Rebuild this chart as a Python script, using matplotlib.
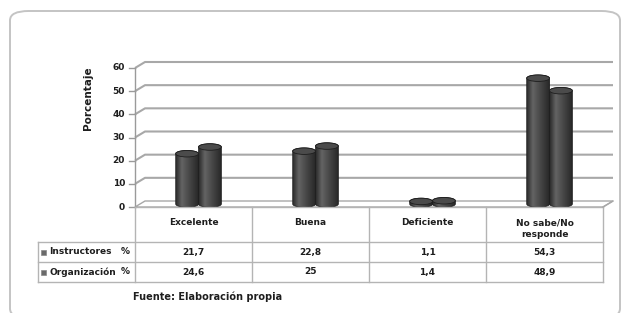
import numpy as np
import matplotlib
matplotlib.use("Agg")
import matplotlib.pyplot as plt
from matplotlib.patches import Polygon, Ellipse, FancyBboxPatch, Rectangle
from matplotlib.lines import Line2D
from matplotlib.colors import LinearSegmentedColormap
from matplotlib.transforms import blended_transform_factory

# data
categories = ["Excelente", "Buena", "Deficiente", "No sabe/No\nresponde"]
series_names = ["Instructores", "Organización"]
instructores = [21.7, 22.8, 1.1, 54.3]
organizacion = [24.6, 25, 1.4, 48.9]
instructores_lbl = ["21,7", "22,8", "1,1", "54,3"]
organizacion_lbl = ["24,6", "25", "1,4", "48,9"]
yticks = [0, 10, 20, 30, 40, 50, 60]

W, H = 622, 313
fig = plt.figure(figsize=(W / 100, H / 100), dpi=100)
fig.patch.set_facecolor("white")

def fx(px):
    return px / W

def fy(py):
    return 1 - py / H

narrow = ["Liberation Sans Narrow", "DejaVu Sans"]
grid_col = "#a8a8a8"
line_col = "#b4b4b4"
txt_col = "#1e1e1e"

# outer rounded frame, bottom edge runs off the picture like the reference
frame = FancyBboxPatch((fx(10), fy(318)), fx(610), 307 / H,
                       boxstyle="round,pad=0,rounding_size=0.03",
                       transform=fig.transFigure, fill=False,
                       edgecolor="#c4c4c4", linewidth=1.4)
fig.add_artist(frame)

# plot area: x 0..4 -> 135..603 px, y 0..60 -> 207..68 px
ax = fig.add_axes([fx(135), fy(207), fx(603) - fx(135), (207 - 68) / H])
ax.set_xlim(0, 4)
ax.set_ylim(0, 60)
ax.axis("off")

dx = 10 / 117.0        # depth offset in category units
dy = 6 / (139 / 60.0)  # depth offset in value units

# floor
floor = Polygon([(0, 0), (4, 0), (4 + dx, dy), (dx, dy)], closed=True,
                facecolor="white", edgecolor=grid_col, linewidth=1.0,
                clip_on=False, zorder=1)
ax.add_patch(floor)

# gridlines with the 3d diagonal start
for v in yticks[1:]:
    ax.plot([0, dx, 4 + dx], [v, v + dy, v + dy], color=grid_col,
            linewidth=1.5, clip_on=False, zorder=1, solid_capstyle="butt")

# y axis and ticks
ax.plot([0, 0], [0, 60], color="#9a9a9a", linewidth=1.0, clip_on=False, zorder=2)
for v in yticks:
    ax.plot([-0.05, 0], [v, v], color="#9a9a9a", linewidth=1.0, clip_on=False)
    ax.text(-0.085, v, str(v), ha="right", va="center", fontsize=6.5,
            fontweight="bold", color=txt_col)

ax.text(-0.10, 0.78, "Porcentaje", rotation=90, ha="center", va="center",
        fontsize=7.5, fontweight="bold", color=txt_col, transform=ax.transAxes)

# cylinders
cyl_cmap = LinearSegmentedColormap.from_list(
    "cyl", ["#2e2e2e", "#646464", "#4e4e4e", "#3a3a3a", "#262626"])
grad = np.linspace(0, 1, 64).reshape(1, -1)

bw = 0.195
eh = 2.8

def cylinder(xc, value):
    base = dy / 2
    top = value + dy / 2
    n = 40
    t = np.linspace(np.pi, 2 * np.pi, n)
    bottom_arc = np.column_stack([xc + bw / 2 * np.cos(t), base + eh / 2 * np.sin(t)])
    t2 = np.linspace(0, np.pi, n)
    top_arc = np.column_stack([xc + bw / 2 * np.cos(t2), top + eh / 2 * np.sin(t2)])
    body = Polygon(np.vstack([bottom_arc, top_arc]), closed=True,
                   facecolor="none", edgecolor="#1e1e1e", linewidth=0.6, zorder=4)
    im = ax.imshow(grad, cmap=cyl_cmap, aspect="auto", zorder=3,
                   extent=[xc - bw / 2, xc + bw / 2, base - eh, top + eh])
    ax.add_patch(body)
    im.set_clip_path(body)
    cap = Ellipse((xc, top), bw, eh, facecolor="#4b4b4b", edgecolor="#1e1e1e",
                  linewidth=0.6, zorder=5)
    ax.add_patch(cap)

for i in range(len(categories)):
    c = i + 0.5 + dx / 2
    cylinder(c - bw / 2, instructores[i])
    cylinder(c + bw / 2, organizacion[i])

ax.set_xlim(0, 4)
ax.set_ylim(0, 60)

# data table under the chart
tb = blended_transform_factory(ax.transData, fig.transFigure)

def hline(x0, x1, py):
    fig.add_artist(Line2D([x0, x1], [fy(py), fy(py)], transform=tb,
                          color=line_col, linewidth=1.0))

def vline(x, py0, py1):
    fig.add_artist(Line2D([x, x], [fy(py0), fy(py1)], transform=tb,
                          color=line_col, linewidth=1.0))

left_data = (38 - 135) / 117.0
hline(0, 4, 207)
hline(left_data, 4, 242)
hline(left_data, 4, 262)
hline(left_data, 4, 282)
for i in range(5):
    vline(i, 207, 282)
vline(left_data, 242, 282)
fig.add_artist(Line2D([4, 4 + dx], [fy(207), fy(201)], transform=tb,
                      color=grid_col, linewidth=1.0))

fs = 6.5
for i, cat in enumerate(categories):
    fig.text(i + 0.5, fy(218), cat, transform=tb, ha="center", va="top",
             fontsize=fs, fontweight="bold", family=narrow, color=txt_col,
             linespacing=1.4)
    fig.text(i + 0.5, fy(252), instructores_lbl[i], transform=tb, ha="center",
             va="center", fontsize=fs, fontweight="bold", family=narrow, color=txt_col)
    fig.text(i + 0.5, fy(272), organizacion_lbl[i], transform=tb, ha="center",
             va="center", fontsize=fs, fontweight="bold", family=narrow, color=txt_col)

for name, py in zip(series_names, [252, 272]):
    fig.add_artist(Rectangle((fx(41), fy(py + 2.5)), fx(5), 5 / H,
                             transform=fig.transFigure, facecolor="#6a6a6a",
                             edgecolor="#8a8a8a", linewidth=0.5))
    fig.text(fx(49), fy(py), name, ha="left", va="center", fontsize=fs,
             fontweight="bold", family=narrow, color=txt_col)
    fig.text(fx(130), fy(py), "%", ha="right", va="center", fontsize=fs,
             fontweight="bold", family=narrow, color=txt_col)

fig.text(fx(133), fy(297), "Fuente: Elaboración propia", ha="left", va="center",
         fontsize=7, fontweight="bold", family=narrow, color=txt_col)

fig.savefig("out.png", dpi=100, facecolor="white")
